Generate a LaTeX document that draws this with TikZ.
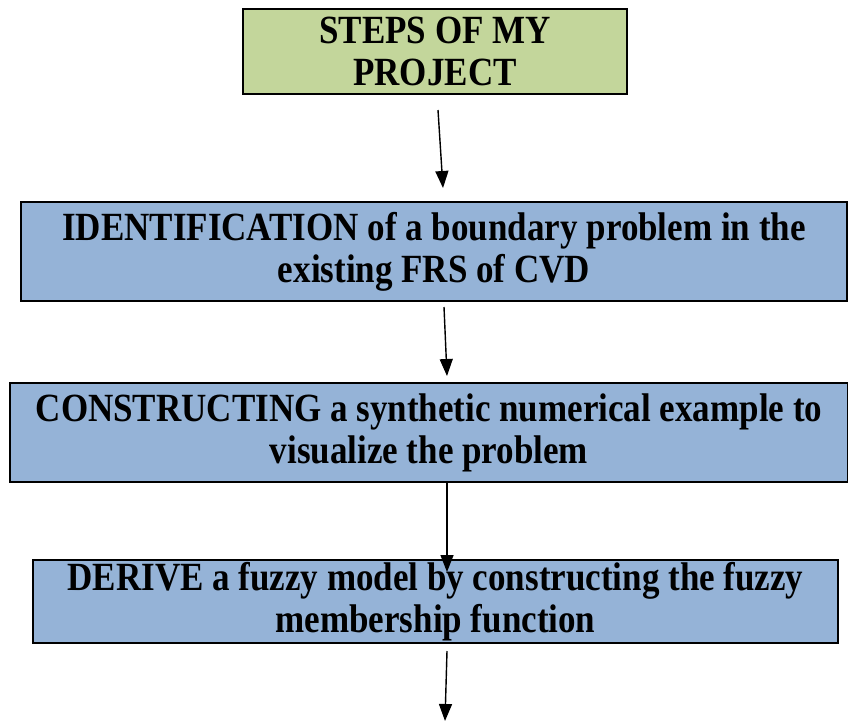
\documentclass[tikz,border=0pt]{standalone}
\usepackage{fontspec}
\setmainfont[FakeStretch=0.875]{Liberation Serif}
\usetikzlibrary{arrows.meta}
\definecolor{stepgreen}{HTML}{C3D69B}
\definecolor{stepblue}{HTML}{95B3D7}

\begin{document}
\begin{tikzpicture}[x=1pt,y=-1pt,
    box/.style={draw=black,line width=2pt,align=center,inner sep=0pt,
        font=\bfseries\fontsize{40}{42}\selectfont},
    flow/.style={line width=1.4pt,-{Triangle[width=13pt,length=17pt]}}]
\useasboundingbox (0,0) rectangle (848,723);
\node[box,fill=stepgreen,minimum width=384pt,minimum height=85pt] (title) at (435,51.5) {STEPS OF MY\\PROJECT};
\node[box,fill=stepblue,minimum width=826pt,minimum height=99pt] (ident) at (434,251.5) {IDENTIFICATION of a boundary problem in the\\existing FRS of CVD};
\node[box,fill=stepblue,minimum width=838pt,minimum height=99pt] (constr) at (429,432.5) {CONSTRUCTING a synthetic numerical example to\\visualize the problem};
\node[box,fill=stepblue,minimum width=805pt,minimum height=83pt] (derive) at (435.5,601.5) {DERIVE a fuzzy model by constructing the fuzzy\\membership function};
% connectors
\coordinate (a1) at (438,110);
\coordinate (b1) at (443,188);
\coordinate (a2) at (444,307);
\coordinate (b2) at (447,376);
\coordinate (a3) at (447,483);
\coordinate (b3) at (447,572);
\coordinate (a4) at (447,651);
\coordinate (next) at (445,721);
\draw[flow] (a1) -- (b1);
\draw[flow] (a2) -- (b2);
\draw[flow] (a3) -- (b3);
\draw[flow] (a4) -- (next);
\end{tikzpicture}
\end{document}
